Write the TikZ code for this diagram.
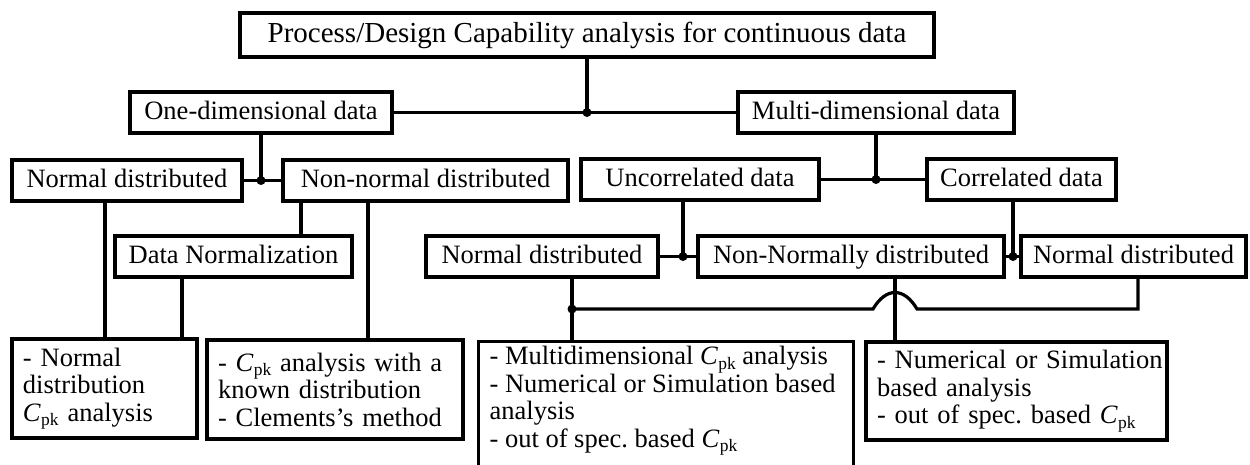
\documentclass[tikz,border=0pt]{standalone}
\usepackage{fontspec}
\setmainfont{Liberation Serif}
\frenchspacing
\newcommand{\Cpk}{\textit{C}\kern0.3pt\raisebox{-4.5pt}{\fontsize{17.5}{17.5}\selectfont pk}}
\newcommand{\txtline}[1]{\mbox{#1}}
\begin{document}
\frenchspacing
\begin{tikzpicture}[x=1pt,y=-1pt,
  box/.style={draw, line width=3.2pt, inner xsep=11pt, inner ysep=0pt, font=\fontsize{26.5}{27.5}\selectfont},
  single/.style={box, minimum height=41pt, text height=18pt, text depth=4pt},
  multi/.style={box, align=left},
  conn/.style={line width=3.2pt},
  dot/.style={circle, fill, inner sep=0pt, minimum size=9pt}]
\useasboundingbox (0,0) rectangle (1250,465);
\clip (0,0) rectangle (1250,465);

% nodes
\node[single, minimum width=694pt, minimum height=44pt, font=\fontsize{29}{31}\selectfont, text height=19.5pt, text depth=5pt] (top) at (587,35) {Process/Design Capability analysis for continuous data};
\node[single, minimum width=262pt] (one) at (261,112.5) {One-dimensional data};
\node[single, minimum width=276pt] (multi) at (876,112.5) {Multi-dimensional data};
\node[single, minimum width=230pt] (nd1) at (127,180.5) {Normal distributed};
\node[single, minimum width=285pt] (nn1) at (425.5,180.5) {Non-normal distributed};
\node[single, minimum width=238pt] (unc) at (700,179.5) {Uncorrelated data};
\node[single, minimum width=189pt] (cor) at (1021.5,179.5) {Correlated data};
\node[single, minimum width=237pt] (dn) at (233.5,256.5) {Data Normalization};
\node[single, minimum width=232pt] (nd2) at (542,256.5) {Normal distributed};
\node[single, minimum width=306pt] (nn2) at (851,256.5) {Non-Normally distributed};
\node[single, minimum width=225pt] (nd3) at (1133.5,256.5) {Normal distributed};

\node[multi, minimum width=185pt, minimum height=99pt, text width=163pt] (b1) at (104.5,388.5)
  {\txtline{- Normal}\\ \txtline{distribution}\\ \txtline{\Cpk{} analysis}};
\node[multi, minimum width=256pt, minimum height=99pt, text width=234pt] (b2) at (335,389.5)
  {\txtline{- \Cpk{} analysis with a}\\ \txtline{known distribution}\\ \txtline{- Clements's method}};
\node[multi, minimum width=301pt, minimum height=98pt, text width=279pt] (b4) at (1016.5,391)
  {\txtline{- Numerical or Simulation}\\ \txtline{based analysis}\\ \txtline{- out of spec. based \Cpk}};
\node[box, anchor=north west, inner ysep=5pt] (b3) at (477,340)
  {\parbox[t][140pt][t]{353pt}{\raggedright \txtline{- Multidimensional \Cpk{} analysis}\\ \txtline{- Numerical or Simulation based}\\ \txtline{analysis}\\ \txtline{- out of spec. based \Cpk}}};

% column coordinates
\coordinate (x105) at (105,0);
\coordinate (x182) at (182,0);
\coordinate (x301) at (301,0);
\coordinate (x368) at (368,0);
\coordinate (x572) at (572,0);
\coordinate (x683) at (683,0);
\coordinate (x895) at (895,0);
\coordinate (x1013) at (1013,0);
\coordinate (x1138) at (1138,0);

% top level
\coordinate (j0) at (top.south |- one.east);
\draw[conn] (top.south) -- (j0);
\draw[conn] (one.east) -- (multi.west);
\node[dot] (d0) at (j0) {};

% one-dimensional branch
\coordinate (j1) at (one.south |- nd1.east);
\draw[conn] (one.south) -- (j1);
\draw[conn] (nd1.east) -- (nn1.west);
\node[dot] (d1) at (j1) {};
\draw[conn] (nd1.south -| x105) -- (b1.north -| x105);
\draw[conn] (nn1.south -| x301) -- (dn.north -| x301);
\draw[conn] (nn1.south -| x368) -- (b2.north -| x368);
\draw[conn] (dn.south -| x182) -- (b1.north -| x182);

% multi-dimensional branch
\coordinate (j2) at (multi.south |- unc.east);
\draw[conn] (multi.south) -- (j2);
\draw[conn] (unc.east) -- (cor.west);
\node[dot] (d2) at (j2) {};

\coordinate (j3) at (nd2.east -| x683);
\draw[conn] (unc.south -| x683) -- (j3);
\draw[conn] (nd2.east) -- (nn2.west);
\node[dot] (d3) at (j3) {};

\coordinate (j4) at (nn2.east -| x1013);
\draw[conn] (cor.south -| x1013) -- (j4);
\draw[conn] (nn2.east) -- (nd3.west);
\node[dot] (d4) at (j4) {};

% lower connections
\coordinate (j5) at (572,309);
\coordinate (j6) at (1138,309);
\coordinate (hl) at (873,309);
\coordinate (hc1) at (886,287);
\coordinate (hc2) at (904,287);
\coordinate (hr) at (917,309);
\draw[conn] (nd2.south -| x572) -- (b3.north -| x572);
\draw[conn] (j5) -- (hl) .. controls (hc1) and (hc2) .. (hr) -- (j6) -- (nd3.south -| x1138);
\node[dot] (d5) at (j5) {};
\draw[conn] (nn2.south -| x895) -- (b4.north -| x895);
\end{tikzpicture}
\end{document}
